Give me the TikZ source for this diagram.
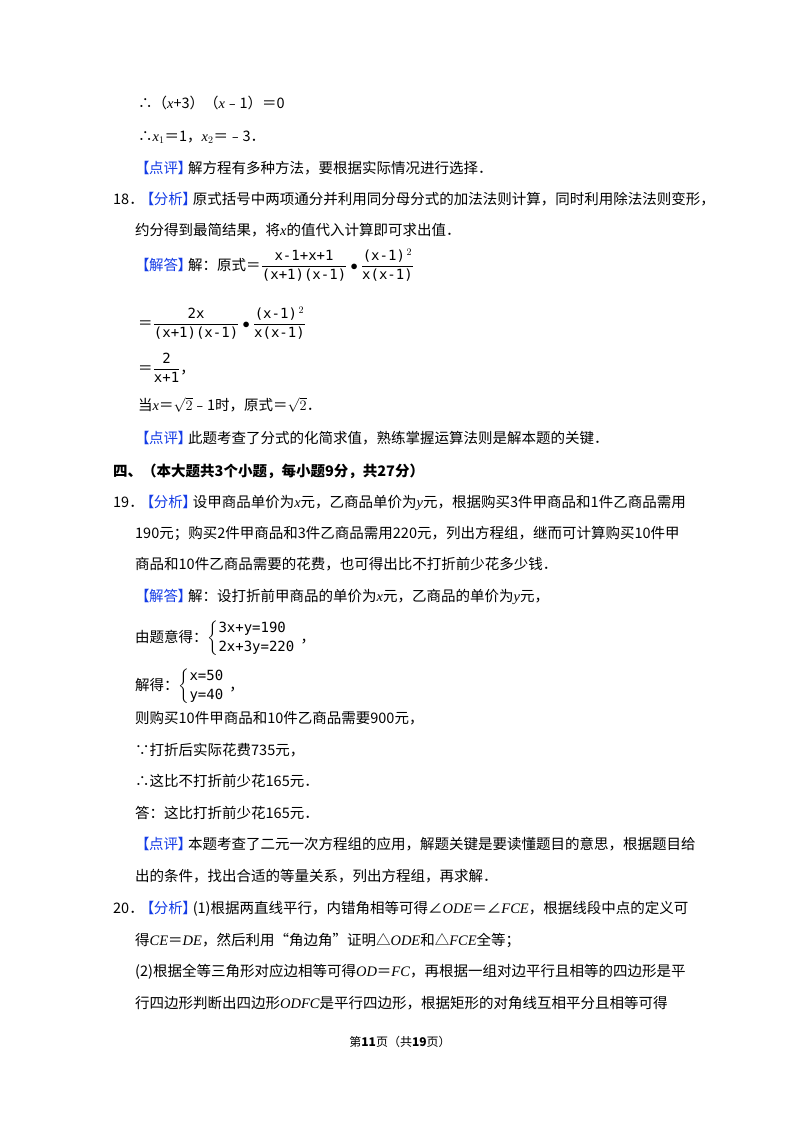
\documentclass[tikz,border=0pt]{standalone}
\usepackage{amsmath}
\usepackage{fontspec}
\setmainfont{Noto Sans CJK SC}
\newfontfamily\lat{Liberation Serif}
\newfontfamily\mono{DejaVu Sans Mono}
\newcommand\vv[1]{{\lat\itshape #1}}
\newcommand\mm[1]{\hbox{\mono\fontsize{14}{16}\selectfont #1}}
\definecolor{tagblue}{RGB}{20,60,230}
\newcommand\tg[1]{{\color{tagblue}\kern-4pt【\kern-0.5pt#1\kern-0.5pt】\kern-4pt}}
\XeTeXlinebreaklocale "zh"
\XeTeXlinebreakskip=0pt plus 2pt
\tikzset{ln/.style={anchor=base west,inner sep=0pt,font=\fontsize{14.5}{17}\selectfont}}
\begin{document}
\begin{tikzpicture}[x=1pt,y=-1pt]
\useasboundingbox[fill=white] (0,0) rectangle (800,1132);
\node[ln] (l1) at (138,108) {∴（\vv{x}+3）（\vv{x}﹣1）＝0};
\node[ln] (l2) at (138,141) {∴\vv{x}$_1$＝1，\vv{x}$_2$＝﹣3．};
\node[ln] (l3) at (139,173) {\tg{点评}解方程有多种方法，要根据实际情况进行选择．};
\node[ln] (l4) at (113,204) {\hbox to 554pt{18．\tg{分析}原式括号中两项通分并利用同分母分式的加法法则计算，同时利用除法法则变形，}};
\node[ln] (l5) at (135,235) {约分得到最简结果，将\vv{x}的值代入计算即可求出值．};
\node[ln] (l6) at (139,270) {\tg{解答}解：原式＝$\dfrac{\mm{x-1+x+1}}{\mm{(x+1)(x-1)}}\bullet\dfrac{\mm{(x-1)$^{\,2}$}}{\mm{x(x-1)}}$};
\node[ln] (l7) at (138,328) {＝$\dfrac{\mm{2x}}{\mm{(x+1)(x-1)}}\bullet\dfrac{\mm{(x-1)$^{\,2}$}}{\mm{x(x-1)}}$};
\node[ln] (l8) at (138,373) {＝$\dfrac{\mm{2}}{\mm{x+1}}$，};
\node[ln] (l9) at (138,410) {当\vv{x}＝$\sqrt{2}$﹣1时，原式＝$\sqrt{2}$．};
\node[ln] (l10) at (139,443) {\tg{点评}此题考查了分式的化简求值，熟练掌握运算法则是解本题的关键．};
\node[ln] (l11) at (113,476) {\textbf{四、（本大题共3个小题，每小题9分，共27分）}};
\node[ln] (l12) at (113,507) {\hbox to 554pt{19．\tg{分析}设甲商品单价为\vv{x}元，乙商品单价为\vv{y}元，根据购买3件甲商品和1件乙商品需用}};
\node[ln] (l13) at (135,538) {\hbox to 532pt{190元；购买2件甲商品和3件乙商品需用220元，列出方程组，继而可计算购买10件甲}};
\node[ln] (l14) at (135,569) {商品和10件乙商品需要的花费，也可得出比不打折前少花多少钱．};
\node[ln] (l15) at (139,601) {\tg{解答}解：设打折前甲商品的单价为\vv{x}元，乙商品的单价为\vv{y}元，};
\node[ln] (l16) at (135,642) {由题意得：$\left\{\begin{array}{@{}l}\mm{3x+y=190}\\[2pt]\mm{2x+3y=220}\end{array}\right.$，};
\node[ln] (l17) at (135,690) {解得：$\left\{\begin{array}{@{}l}\mm{x=50}\\[2pt]\mm{y=40}\end{array}\right.$，};
\node[ln] (l18) at (135,723) {则购买10件甲商品和10件乙商品需要900元，};
\node[ln] (l19) at (135,755) {∵打折后实际花费735元，};
\node[ln] (l20) at (135,786) {∴这比不打折前少花165元．};
\node[ln] (l21) at (135,818) {答：这比打折前少花165元．};
\node[ln] (l22) at (139,849) {\hbox to 528pt{\tg{点评}本题考查了二元一次方程组的应用，解题关键是要读懂题目的意思，根据题目给}};
\node[ln] (l23) at (135,881) {出的条件，找出合适的等量关系，列出方程组，再求解．};
\node[ln] (l24) at (113,913) {\hbox to 554pt{20．\tg{分析}(1)根据两直线平行，内错角相等可得∠\vv{ODE}＝∠\vv{FCE}，根据线段中点的定义可}};
\node[ln] (l25) at (135,945) {得\vv{CE}＝\vv{DE}，然后利用“角边角”证明△\vv{ODE}和△\vv{FCE}全等；};
\node[ln] (l26) at (135,976) {\hbox to 532pt{(2)根据全等三角形对应边相等可得\vv{OD}＝\vv{FC}，再根据一组对边平行且相等的四边形是平}};
\node[ln] (l27) at (135,1008) {\hbox to 532pt{行四边形判断出四边形\vv{ODFC}是平行四边形，根据矩形的对角线互相平分且相等可得}};
\node[anchor=base,inner sep=0pt,font=\fontsize{12}{14}\selectfont] (ft) at (400,1046) {第\textbf{11}页（共\textbf{19}页）};
\end{tikzpicture}
\end{document}
